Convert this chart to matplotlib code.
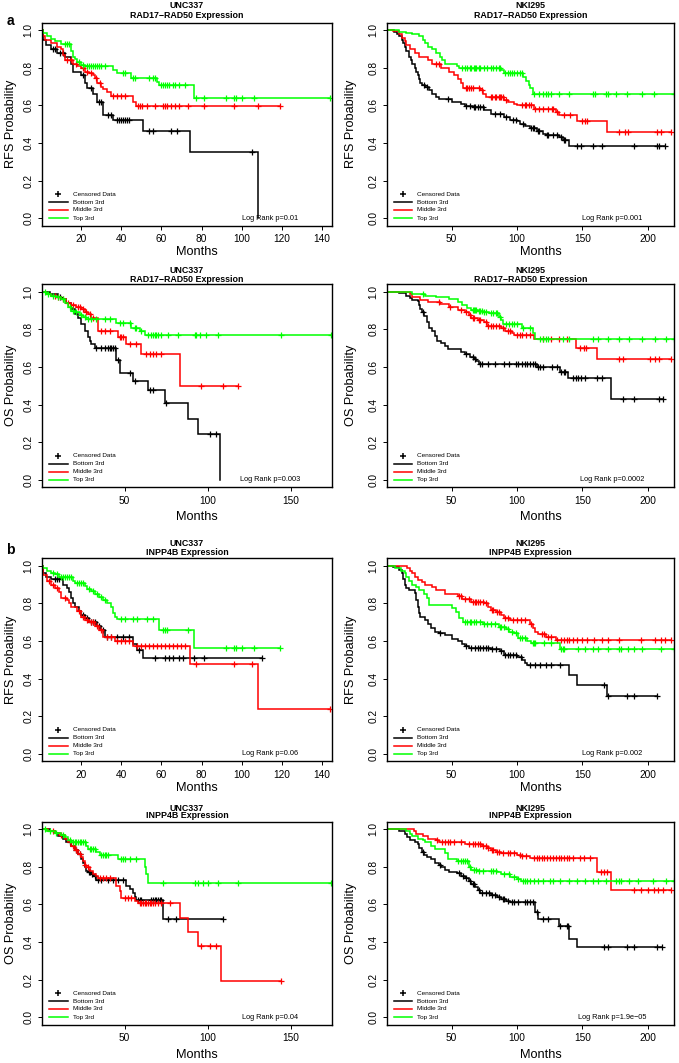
import numpy as np
import matplotlib
matplotlib.use("Agg")
import matplotlib.pyplot as plt
import matplotlib.transforms as mtransforms

plt.rcParams["font.family"] = ["Liberation Sans", "DejaVu Sans"]

# ── a, UNC337 RFS ─────────────────────────────────────────────────────────────
A1_BOT_T = [0, 1, 2.5, 5, 8, 12, 15, 16, 20, 22, 23, 26, 28, 31, 36, 51, 74, 108]
A1_BOT_S = [1.0, .95, .92, .90, .88, .86, .82, .78, .76, .72, .69, .66, .62, .55, .52, .465, .35, 0.0]
A1_BOT_C = [6, 7, 9.5, 11, 21, 25, 29, 30, 33.5, 35, 38, 39, 40, 41, 42, 43, 44, 54, 56, 65, 68, 105]
A1_MID_T = [0, 1, 2, 5, 8, 10, 11, 12, 16, 18, 20, 22, 24, 26, 27, 28, 30, 31, 33, 35, 46, 47.5]
A1_MID_S = [1.0, .97, .95, .93, .91, .90, .87, .84, .82, .81, .80, .78, .77, .76, .745, .72, .70, .685, .67, .65, .62, .595]
A1_MID_C = [13, 15, 17.5, 21, 23, 25, 27.5, 29.5, 36, 38, 40, 42, 48.5, 49.5, 50.5, 53, 57, 61, 62, 63, 65, 67,
            69, 73, 81, 96, 108, 119]
A1_TOP_T = [0, 1, 3, 5, 7, 10, 15, 16, 17, 18, 20, 22, 36, 38, 45, 58, 59, 76]
A1_TOP_S = [1.0, .985, .97, .955, .94, .925, .89, .86, .845, .83, .815, .81, .79, .77, .745, .725, .71, .64]
A1_TOP_C = [12, 13, 14, 19, 21, 23, 24, 25, 26, 27, 28, 29, 30, 32, 41, 42, 46, 47, 54, 56, 57, 60, 61, 62, 63,
            64, 66, 67, 69, 72, 77, 81, 92, 96, 97, 100, 106, 144]

# ── a, NKI295 RFS ─────────────────────────────────────────────────────────────
A2_BOT_T = [0, 6, 8, 10, 12, 13, 14, 15, 17, 19, 20, 22, 23, 24, 25, 26, 27, 30, 33, 35, 38, 40, 50, 57, 60,
            66, 75, 80, 90, 95, 100, 102, 106, 110, 115, 120, 122, 132, 135, 140]
A2_BOT_S = [1.0, .99, .98, .97, .95, .93, .91, .89, .86, .84, .82, .80, .78, .76, .74, .72, .71, .70, .68, .66,
            .645, .635, .62, .605, .595, .59, .575, .555, .54, .525, .515, .50, .49, .48, .465, .45, .445, .43,
            .415, .385]
A2_BOT_C = [29, 31, 47, 61, 64, 67, 68, 70, 72, 74, 83, 87, 92, 97, 99, 105, 111, 112, 113, 116, 117, 123, 124,
            128, 131, 134, 136, 137, 146, 149, 158, 165, 190, 207, 209, 213]
A2_MID_T = [0, 5, 10, 12, 14, 15, 18, 22, 25, 32, 35, 42, 48, 52, 55, 57, 59, 72, 74, 76, 90, 93, 98, 100, 113,
            130, 132, 146, 169]
A2_MID_S = [1.0, .995, .98, .96, .94, .92, .90, .88, .86, .84, .82, .80, .78, .76, .74, .72, .695, .68, .66, .645,
            .63, .62, .61, .60, .58, .565, .55, .515, .46]
A2_MID_C = [38, 40, 61, 62, 63, 65, 66, 71, 73, 80, 81, 83, 84, 86, 87, 88, 89, 92, 104, 106, 107, 109, 111, 114,
            117, 120, 124, 127, 128, 131, 136, 141, 150, 152, 154, 178, 183, 185, 207, 210, 218]
A2_TOP_T = [0, 10, 15, 20, 25, 28, 30, 32, 35, 38, 41, 43, 45, 54, 56, 88, 90, 105, 107, 109, 110, 112]
A2_TOP_S = [1.0, .99, .985, .98, .97, .95, .93, .91, .90, .88, .86, .84, .82, .81, .80, .79, .77, .75, .73, .71,
            .69, .66]
A2_TOP_C = [58, 60, 62, 64, 65, 67, 68, 69, 71, 72, 75, 77, 80, 82, 84, 86, 87, 91, 93, 95, 96, 98, 100, 102, 104,
            113, 117, 120, 122, 124, 126, 132, 140, 158, 160, 168, 170, 176, 184, 196, 205, 220]

# ── a, UNC337 OS ──────────────────────────────────────────────────────────────
A3_BOT_T = [0, 5, 10, 12, 15, 18, 20, 22, 24, 26, 28, 29, 30, 32, 45, 47, 55, 64, 74, 88, 94, 107]
A3_BOT_S = [1.0, .99, .97, .96, .94, .91, .88, .86, .83, .79, .76, .74, .72, .70, .635, .57, .525, .475, .41, .325,
            .245, 0.0]
A3_BOT_C = [11, 33, 36, 38, 40, 41, 42, 43, 44, 46, 53, 56, 65, 67, 75, 101, 105]
A3_MID_T = [0, 3, 6, 9, 12, 15, 18, 21, 24, 26, 28, 30, 34, 46, 51, 60, 83]
A3_MID_S = [1.0, .99, .98, .97, .96, .94, .93, .92, .91, .895, .88, .86, .79, .76, .72, .67, .50]
A3_MID_C = [8, 10, 13, 16, 19, 22, 23, 25, 27, 29, 31, 36, 38, 41, 47, 48, 49, 53, 57, 63, 65, 67, 69, 72, 96,
            109, 118]
A3_TOP_T = [0, 3, 6, 9, 12, 14, 16, 18, 20, 23, 25, 27, 45, 54, 59, 62]
A3_TOP_S = [1.0, .99, .98, .97, .96, .94, .92, .90, .89, .875, .865, .855, .835, .81, .79, .77]
A3_TOP_C = [2, 4, 7, 10, 13, 17, 19, 21, 24, 26, 28, 30, 33, 38, 41, 47, 49, 53, 56, 57, 60, 64, 66, 67, 68, 69,
            70, 72, 76, 82, 92, 93, 95, 99, 106, 144, 174]

# ── a, NKI295 OS ──────────────────────────────────────────────────────────────
A4_BOT_T = [0, 10, 15, 18, 20, 24, 25, 26, 27, 29, 31, 33, 35, 37, 39, 42, 45, 47, 57, 60, 64, 67, 69, 71, 115,
            133, 139, 172]
A4_BOT_S = [1.0, .995, .98, .965, .955, .95, .93, .91, .89, .87, .84, .81, .79, .765, .74, .73, .71, .695, .68,
            .67, .655, .64, .63, .615, .60, .575, .54, .43]
A4_BOT_C = [28, 61, 66, 68, 72, 73, 78, 83, 90, 94, 99, 101, 104, 106, 108, 110, 112, 114, 116, 118, 120, 127,
            131, 134, 136, 137, 143, 145, 147, 149, 152, 161, 165, 181, 190, 209, 212]
A4_MID_T = [0, 18, 20, 26, 32, 41, 48, 55, 60, 63, 65, 70, 75, 77, 88, 91, 96, 98, 113, 145, 161]
A4_MID_S = [1.0, .99, .97, .955, .945, .935, .92, .905, .89, .875, .86, .85, .84, .82, .81, .79, .78, .77, .75,
            .70, .64]
A4_MID_C = [40, 49, 57, 61, 64, 66, 67, 71, 72, 76, 78, 80, 82, 84, 86, 89, 93, 95, 100, 102, 104, 107, 110, 120,
            126, 132, 138, 148, 151, 153, 178, 181, 202, 206, 209, 218]
A4_TOP_T = [0, 20, 30, 38, 48, 55, 58, 62, 65, 70, 74, 79, 86, 88, 89, 104, 112, 114]
A4_TOP_S = [1.0, .99, .98, .97, .96, .945, .93, .915, .905, .90, .895, .885, .865, .85, .83, .805, .78, .75]
A4_TOP_C = [28, 66, 67, 68, 69, 71, 72, 73, 75, 76, 80, 82, 84, 85, 87, 92, 94, 96, 98, 100, 105, 110, 118, 120,
            122, 124, 135, 140, 158, 162, 170, 178, 186, 196, 206, 214, 220]

# ── b, UNC337 RFS ─────────────────────────────────────────────────────────────
B1_BOT_T = [0, 1, 2.5, 5, 11, 13, 14, 15, 16, 17, 19, 20, 22, 24, 28, 30, 32, 46, 48, 51]
B1_BOT_S = [1.0, .96, .94, .93, .90, .88, .86, .83, .80, .78, .76, .74, .72, .70, .68, .66, .62, .585, .55, .51]
B1_BOT_C = [7, 8, 9, 21, 23, 25, 26, 27, 29, 31, 33, 35, 38, 41, 44, 49, 57, 62, 64, 66, 69, 71, 76, 81, 110]
B1_MID_T = [0, 1, 3, 5, 7, 9, 10, 13, 14, 15, 18, 20, 22, 24, 27, 29, 31, 37, 46, 74, 108]
B1_MID_S = [1.0, .95, .92, .90, .88, .86, .83, .82, .80, .78, .76, .73, .71, .70, .68, .66, .62, .60, .575, .48,
            .24]
B1_MID_C = [4, 6, 8, 12, 19, 21, 23, 25, 26, 28, 30, 33, 35, 38, 40, 42, 44, 48, 50, 52, 54, 56, 58, 60, 62, 64,
            66, 68, 70, 72, 77, 96, 105, 144]
B1_TOP_T = [0, 1, 3, 5, 7, 9, 16, 17, 22, 23, 25, 27, 29, 31, 33, 35, 36, 37, 38, 59, 76]
B1_TOP_S = [1.0, .99, .97, .96, .955, .94, .92, .91, .89, .875, .865, .85, .835, .82, .80, .78, .75, .73, .715,
            .66, .565]
B1_TOP_C = [6, 8, 10, 11, 12, 13, 14, 15, 18, 19, 20, 21, 24, 26, 28, 30, 32, 40, 42, 46, 48, 53, 56, 61, 62, 63,
            73, 92, 96, 97, 100, 106, 119]

# ── b, NKI295 RFS ─────────────────────────────────────────────────────────────
B2_BOT_T = [0, 5, 10, 12, 13, 14, 15, 17, 22, 23, 24, 25, 26, 30, 32, 34, 37, 40, 45, 50, 55, 58, 60, 63, 80,
            87, 90, 100, 104, 106, 108, 140, 146, 169]
B2_BOT_S = [1.0, .995, .98, .96, .93, .90, .88, .87, .855, .82, .78, .75, .73, .71, .69, .67, .65, .64, .63, .61,
            .60, .585, .575, .565, .555, .545, .525, .515, .50, .485, .47, .42, .365, .305]
B2_BOT_C = [41, 61, 65, 68, 70, 72, 74, 76, 78, 81, 84, 88, 91, 93, 95, 97, 99, 103, 110, 114, 118, 122, 126, 133,
            167, 170, 184, 190, 207]
B2_MID_T = [0, 16, 18, 20, 22, 24, 27, 30, 35, 38, 45, 55, 58, 65, 75, 78, 80, 84, 88, 90, 95, 110, 112, 114,
            116, 122, 130]
B2_MID_S = [1.0, .99, .975, .96, .94, .925, .915, .90, .885, .87, .85, .84, .825, .81, .80, .78, .765, .755, .74,
            .725, .71, .69, .67, .65, .635, .62, .605]
B2_MID_C = [56, 57, 60, 63, 66, 68, 69, 70, 72, 74, 76, 81, 82, 85, 86, 91, 93, 97, 100, 103, 106, 111, 119, 121,
            124, 126, 131, 134, 136, 138, 140, 143, 146, 150, 154, 159, 165, 170, 178, 195, 206, 210, 213, 218]
B2_TOP_T = [0, 7, 11, 14, 15, 17, 20, 23, 25, 29, 31, 33, 50, 53, 56, 59, 74, 86, 92, 94, 98, 101, 108, 111, 133]
B2_TOP_S = [1.0, .99, .975, .96, .94, .92, .90, .885, .87, .85, .83, .79, .775, .755, .72, .70, .69, .675, .665,
            .65, .64, .615, .60, .59, .56]
B2_TOP_C = [60, 62, 64, 65, 67, 69, 72, 75, 77, 80, 83, 87, 88, 90, 93, 96, 99, 102, 104, 106, 112, 113, 114, 121,
            126, 134, 135, 136, 147, 152, 158, 162, 170, 178, 180, 185, 190, 196, 210, 220]

# ── b, UNC337 OS ──────────────────────────────────────────────────────────────
B3_BOT_T = [0, 5, 8, 10, 13, 15, 18, 20, 22, 24, 25, 26, 27, 28, 30, 31, 33, 51, 53, 55, 56, 57, 73]
B3_BOT_S = [1.0, .99, .98, .965, .95, .93, .91, .89, .87, .84, .82, .80, .78, .77, .76, .75, .73, .70, .68, .66,
            .64, .625, .52]
B3_BOT_C = [17, 21, 23, 28.5, 29, 30.5, 32, 34, 36, 40, 43, 46, 49, 58, 59, 60, 66, 67, 68, 69, 70, 71, 72, 76,
            81, 109]
B3_MID_T = [0, 4, 8, 11, 14, 16, 18, 20, 22, 24, 25, 26, 27, 29, 31, 33, 34, 45, 47, 48, 56, 58, 83, 88, 94, 108]
B3_MID_S = [1.0, .99, .98, .97, .95, .93, .91, .89, .87, .85, .83, .81, .80, .78, .76, .75, .74, .70, .67, .635,
            .62, .605, .53, .455, .38, .19]
B3_MID_C = [7, 12, 19, 21, 23, 26.5, 28, 35, 37, 39, 41, 50, 52, 54, 59, 60, 61, 62, 63, 64, 65, 66, 67, 68, 70,
            72, 77, 96, 101, 105, 144]
B3_TOP_T = [0, 3, 8, 12, 14, 16, 18, 27, 28, 33, 35, 46, 62, 63, 64]
B3_TOP_S = [1.0, .99, .98, .97, .96, .94, .93, .91, .895, .88, .865, .84, .80, .76, .715]
B3_TOP_C = [2, 5, 9, 13, 17, 19, 20, 21, 22, 23, 24, 25, 26, 29, 30, 31, 32, 36, 37, 38, 39, 40, 48, 49, 50, 53,
            57, 73, 92, 94, 97, 100, 106, 118, 174]

# ── b, NKI295 OS ──────────────────────────────────────────────────────────────
B4_BOT_T = [0, 10, 14, 16, 18, 22, 24, 25, 27, 29, 31, 34, 37, 40, 42, 45, 48, 54, 57, 60, 63, 65, 68, 70, 72,
            80, 85, 88, 92, 95, 114, 116, 132, 140, 146]
B4_BOT_S = [1.0, .99, .975, .96, .94, .93, .92, .90, .88, .865, .85, .84, .82, .81, .80, .785, .775, .765, .75,
            .74, .725, .71, .69, .675, .66, .65, .64, .63, .62, .615, .56, .525, .485, .415, .375]
B4_BOT_C = [28, 41, 56, 59, 61, 64, 66, 67, 71, 73, 76, 79, 81, 83, 86, 89, 90, 93, 96, 98, 101, 106, 108, 110,
            112, 115, 120, 124, 133, 138, 139, 167, 170, 184, 190, 207, 211]
B4_MID_T = [0, 21, 23, 28, 32, 38, 40, 60, 73, 77, 80, 84, 88, 100, 103, 110, 161, 172]
B4_MID_S = [1.0, .99, .975, .965, .95, .94, .93, .92, .91, .90, .89, .88, .875, .865, .855, .845, .77, .675]
B4_MID_C = [39, 43, 45, 47, 49, 52, 57, 63, 66, 68, 70, 72, 74, 76, 78, 81, 82, 85, 86, 89, 93, 95, 98, 102, 104,
            107, 113, 115, 117, 119, 121, 123, 125, 128, 130, 132, 134, 136, 138, 140, 143, 148, 151, 156, 164,
            167, 169, 190, 195, 200, 205, 208, 212, 218]
B4_TOP_T = [0, 15, 18, 20, 24, 28, 30, 34, 37, 45, 47, 54, 63, 65, 70, 85, 88, 95, 100, 103]
B4_TOP_S = [1.0, .99, .975, .965, .95, .94, .93, .91, .895, .875, .84, .83, .80, .785, .78, .77, .76, .745, .735,
            .725]
B4_TOP_C = [55, 57, 59, 60, 62, 64, 67, 69, 71, 74, 80, 82, 84, 90, 94, 98, 101, 105, 106, 108, 110, 113, 116,
            120, 125, 128, 133, 140, 146, 152, 158, 162, 168, 176, 178, 180, 186, 193, 204, 214, 220]

GROUPS = ["Bottom 3rd", "Middle 3rd", "Top 3rd"]
GROUP_COLORS = ["black", "#ff0000", "#00ff00"]

COHORTS = ["UNC337", "NKI295"]
GENES = ["RAD17\u2212RAD50 Expression", "INPP4B Expression"]
ENDPOINTS = ["RFS", "OS"]
P_VALUES = ["0.01", "0.001", "0.003", "0.0002", "0.06", "0.002", "0.04", "1.9e\u221205"]

CURVES = [
    [(A1_BOT_T, A1_BOT_S, A1_BOT_C), (A1_MID_T, A1_MID_S, A1_MID_C), (A1_TOP_T, A1_TOP_S, A1_TOP_C)],
    [(A2_BOT_T, A2_BOT_S, A2_BOT_C), (A2_MID_T, A2_MID_S, A2_MID_C), (A2_TOP_T, A2_TOP_S, A2_TOP_C)],
    [(A3_BOT_T, A3_BOT_S, A3_BOT_C), (A3_MID_T, A3_MID_S, A3_MID_C), (A3_TOP_T, A3_TOP_S, A3_TOP_C)],
    [(A4_BOT_T, A4_BOT_S, A4_BOT_C), (A4_MID_T, A4_MID_S, A4_MID_C), (A4_TOP_T, A4_TOP_S, A4_TOP_C)],
    [(B1_BOT_T, B1_BOT_S, B1_BOT_C), (B1_MID_T, B1_MID_S, B1_MID_C), (B1_TOP_T, B1_TOP_S, B1_TOP_C)],
    [(B2_BOT_T, B2_BOT_S, B2_BOT_C), (B2_MID_T, B2_MID_S, B2_MID_C), (B2_TOP_T, B2_TOP_S, B2_TOP_C)],
    [(B3_BOT_T, B3_BOT_S, B3_BOT_C), (B3_MID_T, B3_MID_S, B3_MID_C), (B3_TOP_T, B3_TOP_S, B3_TOP_C)],
    [(B4_BOT_T, B4_BOT_S, B4_BOT_C), (B4_MID_T, B4_MID_S, B4_MID_C), (B4_TOP_T, B4_TOP_S, B4_TOP_C)],
]

# ── layout (pixels of the 679x1063 canvas) ───────────────────────────────────
FIG_W, FIG_H = 679, 1063
COL_LEFT = [42, 386.7]
COL_W = [290, 287.6]
ROW_TOP = [22.7, 284.3, 558.3, 821.7]
AX_H = 203
TITLE_OFF = [(17.0, 7.5), (14.0, 4.7), (14.3, 6.0), (13.5, 6.0)]
YLAB_X = [11, 351.3]
MONTHS_OFF = [26, 30, 27, 30]


def surv_at(t, s, x):
    idx = np.searchsorted(np.asarray(t, float), np.asarray(x, float), side="right") - 1
    return np.asarray(s, float)[idx]


def draw_km(ax, t, s, c, color):
    t = np.asarray(t, float)
    s = np.asarray(s, float)
    end = max(t[-1], max(c))
    ax.step(np.append(t, end), np.append(s, s[-1]), where="post", color=color, lw=1.1,
            solid_joinstyle="miter")
    ax.plot(c, surv_at(t, s, c), ls="none", marker="+", ms=4.5, mew=0.9, color=color)


fig = plt.figure(figsize=(FIG_W / 100, FIG_H / 100), dpi=100)

for k in range(8):
    row, col = divmod(k, 2)
    gene = GENES[row // 2]
    endpoint = ENDPOINTS[row % 2]
    left = COL_LEFT[col] / FIG_W
    bottom = 1 - (ROW_TOP[row] + AX_H) / FIG_H
    ax = fig.add_axes([left, bottom, COL_W[col] / FIG_W, AX_H / FIG_H])

    for (t, s, c), color in zip(CURVES[k], GROUP_COLORS):
        draw_km(ax, t, s, c, color)

    if col == 1:
        ax.set_xlim(0.3, 220.5)
        ax.set_xticks([50, 100, 150, 200])
    elif endpoint == "RFS":
        ax.set_xlim(0.5, 145)
        ax.set_xticks(np.arange(20, 141, 20))
    else:
        ax.set_xlim(0.4, 174.5)
        ax.set_xticks([50, 100, 150])
    ax.set_ylim(-0.04, 1.04)
    ax.set_yticks(np.arange(0, 1.01, 0.2))
    ax.set_yticklabels([f"{v:.1f}" for v in np.arange(0, 1.01, 0.2)])
    ax.tick_params(axis="both", labelsize=7.3, length=3, width=0.7, pad=3)
    ax.tick_params(axis="y", labelrotation=90)
    for lab in ax.get_yticklabels():
        lab.set_va("center")
    for sp in ax.spines.values():
        sp.set_linewidth(1.0)

    # titles
    t1, t2 = TITLE_OFF[row]
    ax.text(0.5, 1 + t1 / AX_H, COHORTS[col], transform=ax.transAxes, ha="center", va="center",
            fontsize=6.4, fontweight="bold")
    ax.text(0.5, 1 + t2 / AX_H, gene, transform=ax.transAxes, ha="center", va="center",
            fontsize=6.4, fontweight="bold")

    # axis labels
    ax.text((YLAB_X[col] - COL_LEFT[col]) / COL_W[col], 0.5, f"{endpoint} Probability",
            transform=ax.transAxes, rotation=90, ha="center", va="center", fontsize=9.2)
    ax.text(0.5 + 10 / COL_W[col], -MONTHS_OFF[row] / AX_H, "Months", transform=ax.transAxes,
            ha="center", va="center", fontsize=9.2)

    # legend
    tr = mtransforms.blended_transform_factory(ax.transAxes, ax.transData)
    ax.plot([0.055], [0.128], transform=tr, marker="+", ms=4, mew=1.1, color="black", clip_on=False)
    ax.text(0.106, 0.128, "Censored Data", transform=tr, ha="left", va="center", fontsize=4.6)
    for lab, color, yy in zip(GROUPS, GROUP_COLORS, [0.086, 0.044, 0.0]):
        ax.plot([0.025, 0.088], [yy, yy], transform=tr, color=color, lw=1.1)
        ax.text(0.106, yy, lab, transform=tr, ha="left", va="center", fontsize=4.6)

    ax.text(0.785, 0.0, f"Log Rank p={P_VALUES[k]}", transform=tr, ha="center", va="center",
            fontsize=5.3)

fig.text(10 / FIG_W, 1 - 21 / FIG_H, "a", ha="center", va="center", fontsize=10, fontweight="bold")
fig.text(10 / FIG_W, 1 - 550 / FIG_H, "b", ha="center", va="center", fontsize=10, fontweight="bold")

fig.savefig("out.png", dpi=100)
